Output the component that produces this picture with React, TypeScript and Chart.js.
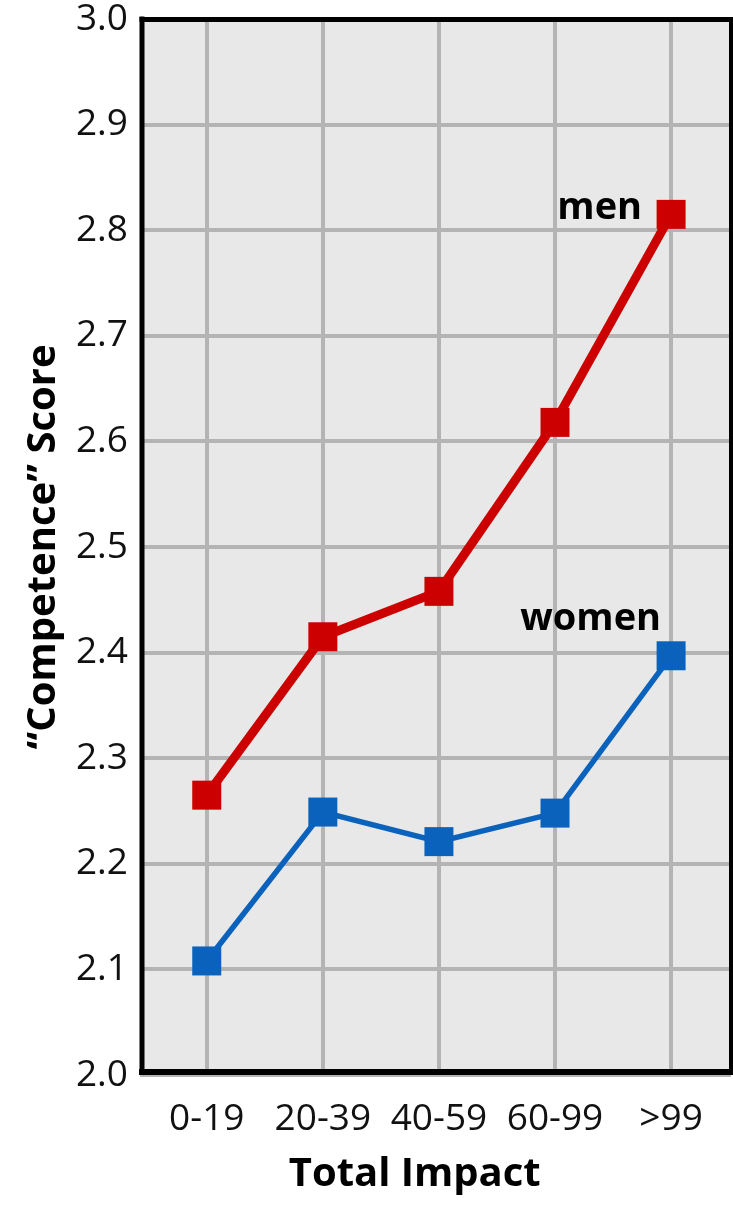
import React, { useEffect, useRef } from "react";
import { Chart, registerables } from "chart.js";

Chart.register(...registerables);

const categories = ["0-19", "20-39", "40-59", "60-99", ">99"];
const menScores = [2.265, 2.415, 2.458, 2.618, 2.815];
const womenScores = [2.108, 2.249, 2.221, 2.248, 2.397];
const yTickValues = [2.0, 2.1, 2.2, 2.3, 2.4, 2.5, 2.6, 2.7, 2.8, 2.9, 3.0];
const seriesNames = ["men", "women"];

const FONT = '"Open Sans", "Noto Sans", sans-serif';
const RED = "#cc0000";
const BLUE = "#0a62bd";

const plotBackground = {
  id: "plotBackground",
  beforeDraw(chart: any) {
    const { ctx, chartArea: a } = chart;
    ctx.save();
    ctx.fillStyle = "#e8e8e8";
    ctx.fillRect(a.left, a.top, a.right - a.left, a.bottom - a.top);
    ctx.restore();
  },
};

const frameAndLabels = {
  id: "frameAndLabels",
  afterDatasetsDraw(chart: any) {
    const { ctx, chartArea: a } = chart;
    ctx.save();
    ctx.strokeStyle = "#000";
    ctx.lineCap = "square";
    // left
    ctx.lineWidth = 5;
    ctx.beginPath();
    ctx.moveTo(a.left + 2, a.top);
    ctx.lineTo(a.left + 2, a.bottom - 3);
    ctx.stroke();
    // bottom
    ctx.lineWidth = 6;
    ctx.beginPath();
    ctx.moveTo(a.left + 2, a.bottom - 3);
    ctx.lineTo(a.right, a.bottom - 3);
    ctx.stroke();
    // top
    ctx.lineWidth = 5;
    ctx.beginPath();
    ctx.moveTo(a.left + 2, a.top + 0.5);
    ctx.lineTo(a.right, a.top + 0.5);
    ctx.stroke();
    // right
    ctx.lineWidth = 4;
    ctx.beginPath();
    ctx.moveTo(a.right, a.top);
    ctx.lineTo(a.right, a.bottom - 3);
    ctx.stroke();

    // series labels
    const menMeta = chart.getDatasetMeta(0).data;
    const womenMeta = chart.getDatasetMeta(1).data;
    const menPt = menMeta[menMeta.length - 1];
    const womenPt = womenMeta[womenMeta.length - 1];
    ctx.fillStyle = "#000";
    ctx.font = `bold 38px ${FONT}`;
    ctx.textAlign = "right";
    ctx.textBaseline = "alphabetic";
    ctx.fillText(seriesNames[0], menPt.x - 29, menPt.y + 5);
    ctx.fillText(seriesNames[1], womenPt.x - 10, womenPt.y - 26);
    ctx.restore();
  },
};

export default function App() {
  const canvasRef = useRef<HTMLCanvasElement | null>(null);

  useEffect(() => {
    const canvas = canvasRef.current;
    if (!canvas) return;
    const chart = new Chart(canvas, {
      type: "line",
      data: {
        datasets: [
          {
            label: seriesNames[0],
            data: categories.map((_, i) => ({ x: i, y: menScores[i] })),
            borderColor: RED,
            backgroundColor: RED,
            borderWidth: 9,
            pointStyle: "rect",
            pointRadius: 20.5,
            pointBorderWidth: 0,
            pointBackgroundColor: RED,
            tension: 0,
          },
          {
            label: seriesNames[1],
            data: categories.map((_, i) => ({ x: i, y: womenScores[i] })),
            borderColor: BLUE,
            backgroundColor: BLUE,
            borderWidth: 5.5,
            pointStyle: "rect",
            pointRadius: 20.5,
            pointBorderWidth: 0,
            pointBackgroundColor: BLUE,
            tension: 0,
          },
        ],
      },
      options: {
        animation: false,
        responsive: false,
        events: [],
        layout: { autoPadding: false, padding: { top: 19, right: 2, bottom: 0, left: 0 } },
        plugins: {
          legend: { display: false },
          tooltip: { enabled: false },
        },
        scales: {
          x: {
            type: "linear",
            min: -0.575,
            max: 4.516,
            afterBuildTicks: (s: any) => {
              s.ticks = categories.map((_, i) => ({ value: i }));
            },
            afterFit: (s: any) => {
              s.height = 130;
              s.paddingLeft = 0;
              s.paddingRight = 0;
              s.paddingTop = 0;
              s.paddingBottom = 0;
            },
            ticks: {
              callback: (v: any) => categories[Math.round(Number(v))] ?? "",
              font: { family: FONT, size: 37 },
              color: "#111",
              padding: 22,
              autoSkip: false,
              maxRotation: 0,
              minRotation: 0,
            },
            grid: { color: "#b4b4b4", lineWidth: 4, drawTicks: false },
            border: { display: false },
            title: {
              display: true,
              text: "Total Impact\u00A0\u00A0\u00A0\u00A0",
              font: { family: FONT, size: 40, weight: "bold" },
              color: "#000",
              padding: { top: 0, bottom: 6 },
            },
          },
          y: {
            type: "linear",
            min: 2,
            max: 3,
            afterBuildTicks: (s: any) => {
              s.ticks = yTickValues.map((v) => ({ value: v }));
            },
            afterFit: (s: any) => {
              s.width = 140;
              s.paddingLeft = 0;
              s.paddingRight = 0;
              s.paddingTop = 0;
              s.paddingBottom = 0;
            },
            ticks: {
              callback: (v: any) => Number(v).toFixed(1),
              font: { family: FONT, size: 37 },
              color: "#111",
              padding: 12,
            },
            grid: { color: "#b4b4b4", lineWidth: 4, drawTicks: false },
            border: { display: false },
            title: {
              display: true,
              text: "\u201CCompetence\u201D Score",
              font: { family: FONT, size: 40, weight: "bold" },
              color: "#000",
              padding: { top: 20, bottom: 0 },
            },
          },
        },
      },
      plugins: [plotBackground, frameAndLabels],
    } as any);
    return () => chart.destroy();
  }, []);

  return (
    <div style={{ position: "fixed", left: 0, top: 0, width: 733, height: 1205, background: "#fff" }}>
      <canvas ref={canvasRef} width={733} height={1205} style={{ width: 733, height: 1205, display: "block" }} />
    </div>
  );
}
